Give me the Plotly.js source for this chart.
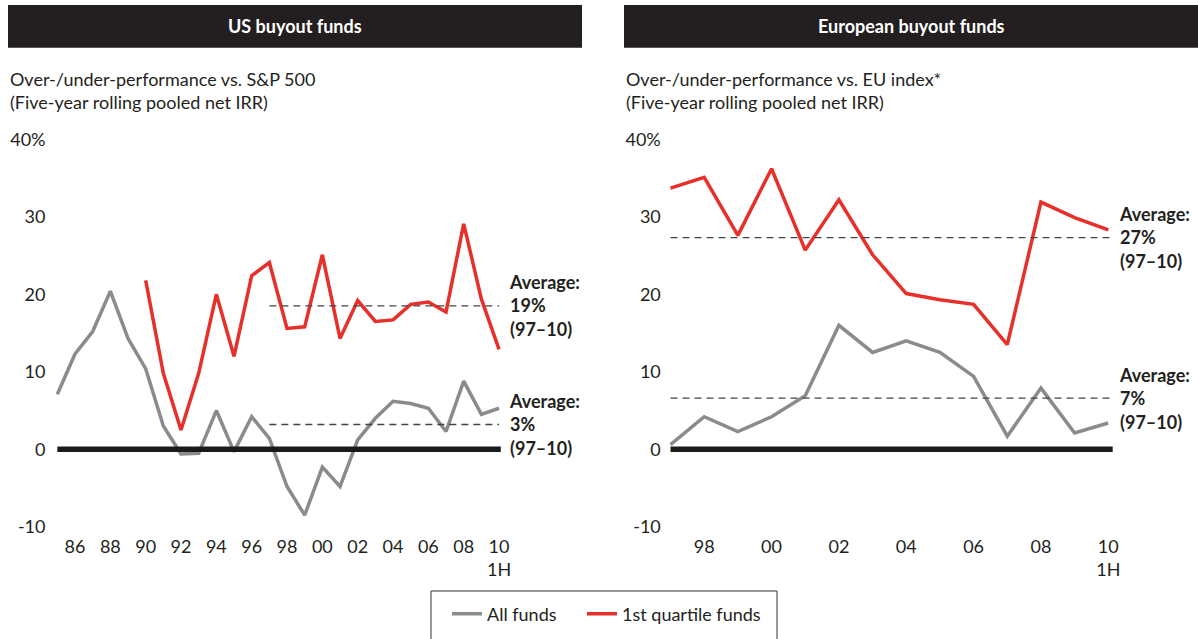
<!DOCTYPE html>
<html>
<head>
<meta charset="utf-8">
<script src="https://cdn.plot.ly/plotly-3.0.1.min.js"></script>
<style>
html,body{margin:0;padding:0;background:#fff;}
#chart{width:1198px;height:639px;}
</style>
</head>
<body>
<div id="chart"></div>
<script>
// ---------- DATA ----------
const usYears = [1985,1986,1987,1988,1989,1990,1991,1992,1993,1994,1995,1996,1997,1998,1999,2000,2001,2002,2003,2004,2005,2006,2007,2008,2009,2010];
const usAllFunds = [7.1,12.3,15.2,20.4,14.3,10.4,3.0,-0.6,-0.5,5.0,-0.3,4.2,1.4,-4.8,-8.5,-2.3,-4.8,1.2,4.0,6.2,5.9,5.3,2.3,8.8,4.5,5.3];
const usTopYears = [1990,1991,1992,1993,1994,1995,1996,1997,1998,1999,2000,2001,2002,2003,2004,2005,2006,2007,2008,2009,2010];
const usTopQuartile = [21.8,9.8,2.5,9.8,20.0,12.0,22.4,24.1,15.6,15.8,25.1,14.3,19.2,16.5,16.7,18.7,19.0,17.7,29.1,19.4,12.9];

const euYears = [1997,1998,1999,2000,2001,2002,2003,2004,2005,2006,2007,2008,2009,2010];
const euAllFunds = [0.6,4.2,2.3,4.2,6.9,16.0,12.5,14.0,12.5,9.4,1.7,7.9,2.1,3.4];
const euTopQuartile = [33.7,35.1,27.6,36.2,25.7,32.2,25.1,20.1,19.3,18.7,13.5,31.9,29.9,28.3];

// averages (97-10)
const avgPeriod = [1997, 2010];
const usAverages = {top: 18.5, all: 3.2};
const euAverages = {top: 27.3, all: 6.6};
const usAvgLabels = {top: "19%", all: "3%"};
const euAvgLabels = {top: "27%", all: "7%"};

const usTickVals = [1986,1988,1990,1992,1994,1996,1998,2000,2002,2004,2006,2008,2010];
const usTickText = ["86","88","90","92","94","96","98","00","02","04","06","08","10<br>1H"];
const euTickVals = [1998,2000,2002,2004,2006,2008,2010];
const euTickText = ["98","00","02","04","06","08","10<br>1H"];
const yTickVals = [-10,0,10,20,30,40];
const yTickText = ["-10","0","10","20","30","40%"];

const panelTitles = ["US buyout funds","European buyout funds"];
const subTitles = ["Over-/under-performance vs. S&P 500<br>(Five-year rolling pooled net IRR)",
                   "Over-/under-performance vs. EU index*<br>(Five-year rolling pooled net IRR)"];
const seriesNames = ["All funds","1st quartile funds"];

// ---------- STYLE ----------
const W = 1198, H = 639;
const RED = "#e8302a", GRAY = "#8b8b8d", INK = "#231f20";
const FONT = "Lato, 'Open Sans', sans-serif";
const px = v => v / W;
const py = v => 1 - v / H;

const traces = [
  {x: usYears, y: usAllFunds, xaxis:"x", yaxis:"y", mode:"lines", name: seriesNames[0],
   line:{color:GRAY, width:3.5}, showlegend:true, legend:"legend"},
  {x: usTopYears, y: usTopQuartile, xaxis:"x", yaxis:"y", mode:"lines", name: seriesNames[1],
   line:{color:RED, width:3.5}, showlegend:true, legend:"legend2"},
  {x: euYears, y: euAllFunds, xaxis:"x2", yaxis:"y2", mode:"lines", name: seriesNames[0],
   line:{color:GRAY, width:3.5}, showlegend:false},
  {x: euYears, y: euTopQuartile, xaxis:"x2", yaxis:"y2", mode:"lines", name: seriesNames[1],
   line:{color:RED, width:3.5}, showlegend:false}
];

const axisCommon = {
  showgrid:false, zeroline:false, showline:false, ticks:"",
  tickfont:{family:FONT, size:18, color:INK}
};

const yDomain = [py(526.8), py(139.3)];
const legendCommon = {orientation:"h", y:py(614), xanchor:"left", yanchor:"middle",
  bgcolor:"rgba(0,0,0,0)", borderwidth:0, font:{family:FONT, size:18, color:INK}};

const layout = {
  width: W, height: H,
  margin:{l:0,r:0,t:0,b:0},
  paper_bgcolor:"#fff", plot_bgcolor:"rgba(0,0,0,0)",
  font:{family:FONT, color:INK},
  xaxis: Object.assign({}, axisCommon, {domain:[px(48.5), px(506.1)], range:[1984.5, 2010.4],
         tickmode:"array", tickvals: usTickVals, ticktext: usTickText, anchor:"y", ticklabelstandoff:7}),
  yaxis: Object.assign({}, axisCommon, {domain:yDomain, range:[-10,40],
         tickmode:"array", tickvals: yTickVals, ticktext: yTickText, anchor:"x", ticklabelstandoff:2}),
  xaxis2: Object.assign({}, axisCommon, {domain:[px(663.8), px(1118.4)], range:[1996.8, 2010.3],
         tickmode:"array", tickvals: euTickVals, ticktext: euTickText, anchor:"y2", ticklabelstandoff:7}),
  yaxis2: Object.assign({}, axisCommon, {domain:yDomain, range:[-10,40],
         tickmode:"array", tickvals: yTickVals, ticktext: yTickText, anchor:"x2", ticklabelstandoff:2}),
  showlegend:true,
  legend: Object.assign({}, legendCommon, {x:px(447)}),
  legend2: Object.assign({}, legendCommon, {x:px(582)}),
  shapes: [
    // header bars
    {type:"rect", xref:"paper", yref:"paper", x0:px(8), x1:px(582), y0:py(47.7), y1:py(5), fillcolor:INK, line:{width:0}},
    {type:"rect", xref:"paper", yref:"paper", x0:px(624), x1:px(1198), y0:py(47.7), y1:py(5), fillcolor:INK, line:{width:0}},
    // legend frame
    {type:"rect", xref:"paper", yref:"paper", x0:px(431), x1:px(777), y0:py(660), y1:py(591), line:{color:"#333", width:1}, fillcolor:"rgba(0,0,0,0)"},
    // zero lines
    {type:"line", xref:"x", yref:"y", x0:usYears[0], x1:2010.1, y0:0, y1:0, line:{color:"#1a1a1a", width:5.5}},
    {type:"line", xref:"x2", yref:"y2", x0:euYears[0], x1:2010.13, y0:0, y1:0, line:{color:"#1a1a1a", width:5.5}},
    // averages
    {type:"line", xref:"x", yref:"y", x0:avgPeriod[0], x1:avgPeriod[1], y0:usAverages.top, y1:usAverages.top, line:{color:"#444", width:1.3, dash:"7px,5px"}},
    {type:"line", xref:"x", yref:"y", x0:avgPeriod[0], x1:avgPeriod[1], y0:usAverages.all, y1:usAverages.all, line:{color:"#444", width:1.3, dash:"7px,5px"}},
    {type:"line", xref:"x2", yref:"y2", x0:avgPeriod[0], x1:2010.1, y0:euAverages.top, y1:euAverages.top, line:{color:"#444", width:1.3, dash:"7px,5px"}},
    {type:"line", xref:"x2", yref:"y2", x0:avgPeriod[0], x1:2010.1, y0:euAverages.all, y1:euAverages.all, line:{color:"#444", width:1.3, dash:"7px,5px"}}
  ],
  annotations: [
    {xref:"paper", yref:"paper", x:px(295), y:py(26), text:"<b>"+panelTitles[0]+"</b>", showarrow:false,
     font:{family:FONT, size:18, color:"#fff"}, xanchor:"center", yanchor:"middle"},
    {xref:"paper", yref:"paper", x:px(911), y:py(26), text:"<b>"+panelTitles[1]+"</b>", showarrow:false,
     font:{family:FONT, size:18, color:"#fff"}, xanchor:"center", yanchor:"middle"},
    {xref:"paper", yref:"paper", x:px(8), y:py(90), text:subTitles[0], showarrow:false, align:"left",
     font:{family:FONT, size:18, color:INK}, xanchor:"left", yanchor:"middle"},
    {xref:"paper", yref:"paper", x:px(624), y:py(90), text:subTitles[1], showarrow:false, align:"left",
     font:{family:FONT, size:18, color:INK}, xanchor:"left", yanchor:"middle"},
    {xref:"x", yref:"y", x:avgPeriod[1], y:usAverages.top, xshift:8, text:"<b>Average:<br>"+usAvgLabels.top+"<br>(97–10)</b>",
     showarrow:false, align:"left", xanchor:"left", yanchor:"middle", font:{family:FONT, size:18, color:INK}},
    {xref:"x", yref:"y", x:avgPeriod[1], y:usAverages.all, xshift:8, text:"<b>Average:<br>"+usAvgLabels.all+"<br>(97–10)</b>",
     showarrow:false, align:"left", xanchor:"left", yanchor:"middle", font:{family:FONT, size:18, color:INK}},
    {xref:"x2", yref:"y2", x:avgPeriod[1], y:euAverages.top, xshift:9, text:"<b>Average:<br>"+euAvgLabels.top+"<br>(97–10)</b>",
     showarrow:false, align:"left", xanchor:"left", yanchor:"middle", font:{family:FONT, size:18, color:INK}},
    {xref:"x2", yref:"y2", x:avgPeriod[1], y:euAverages.all, xshift:9, text:"<b>Average:<br>"+euAvgLabels.all+"<br>(97–10)</b>",
     showarrow:false, align:"left", xanchor:"left", yanchor:"middle", font:{family:FONT, size:18, color:INK}}
  ]
};

Plotly.newPlot("chart", traces, layout, {displayModeBar:false, staticPlot:true});
</script>
</body>
</html>
